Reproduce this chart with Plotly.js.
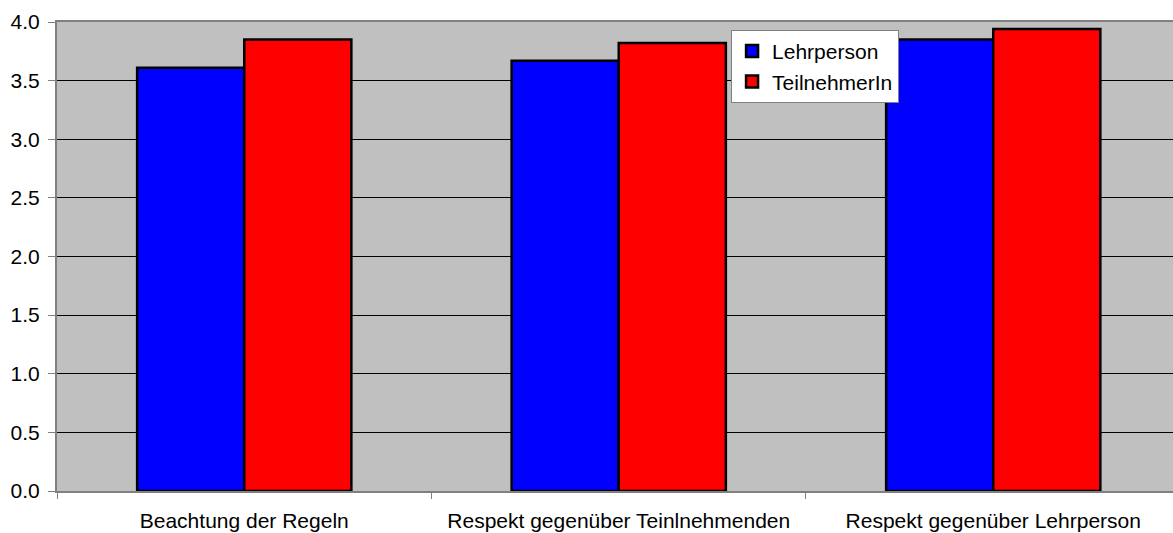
<!DOCTYPE html>
<html>
<head>
<meta charset="utf-8">
<script src="https://cdn.plot.ly/plotly-3.0.1.min.js"></script>
<style>html,body{margin:0;padding:0;background:#fff;}#chart{width:1173px;height:533px;}</style>
</head>
<body>
<div id="chart"></div>
<script>
const categories = ["Beachtung der Regeln", "Respekt gegenüber Teinlnehmenden", "Respekt gegenüber Lehrperson"];
const seriesNames = ["Lehrperson", "TeilnehmerIn"];
const lehrperson = [3.61, 3.67, 3.85];
const teilnehmerin = [3.85, 3.82, 3.94];
const yTicks = [0, 0.5, 1, 1.5, 2, 2.5, 3, 3.5, 4];

const font = {family: "Liberation Sans, Arial, sans-serif", size: 21, color: "#000"};

const traces = [
  {type: "bar", name: seriesNames[0], x: categories, y: lehrperson,
   marker: {color: "#0000FF", line: {color: "#000", width: 2.5}}, hoverinfo: "none"},
  {type: "bar", name: seriesNames[1], x: categories, y: teilnehmerin,
   marker: {color: "#FF0000", line: {color: "#000", width: 2.5}}, hoverinfo: "none"}
];

const layout = {
  width: 1173, height: 533,
  margin: {l: 57, r: 0, t: 22, b: 42, pad: 0},
  paper_bgcolor: "#fff",
  plot_bgcolor: "#C0C0C0",
  font: font,
  barmode: "group",
  bargap: 0.428,
  bargroupgap: 0,
  showlegend: true,
  legend: {
    x: 0.604, y: 0.983, xanchor: "left", yanchor: "top",
    bgcolor: "#fff", bordercolor: "#808080", borderwidth: 1,
    font: font
  },
  xaxis: {
    type: "category",
    range: [-0.5, 2.48],
    tickson: "boundaries",
    ticks: "outside", ticklen: 6, tickcolor: "#808080", tickwidth: 1,
    ticklabelstandoff: 10,
    showline: true, linecolor: "#808080", linewidth: 2, mirror: true,
    showgrid: false, zeroline: false,
    tickfont: font, fixedrange: true
  },
  yaxis: {
    range: [0, 4],
    tickvals: yTicks,
    tickformat: ".1f",
    ticks: "outside", ticklen: 7, tickcolor: "#808080", tickwidth: 1,
    ticklabelstandoff: 4,
    showline: true, linecolor: "#808080", linewidth: 2,
    showgrid: true, gridcolor: "#000", gridwidth: 1,
    zeroline: false,
    tickfont: font, fixedrange: true
  }
};

Plotly.newPlot("chart", traces, layout, {displayModeBar: false, staticPlot: true});
</script>
</body>
</html>
